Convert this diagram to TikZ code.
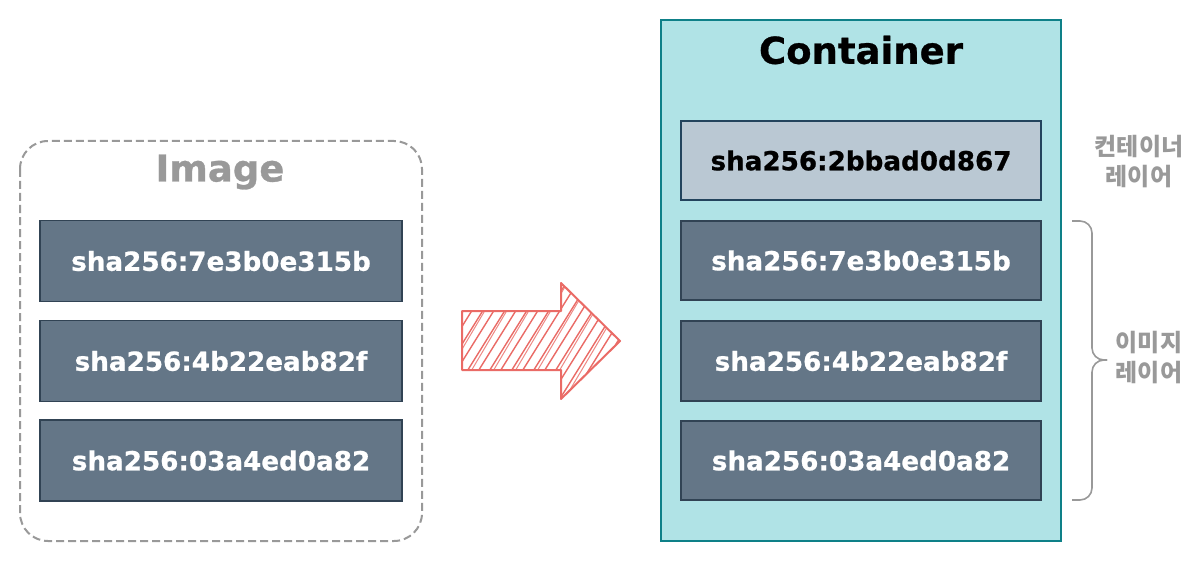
\documentclass[tikz,border=0pt]{standalone}
\usepackage{fontspec}
\setmainfont{DejaVu Sans}[BoldFeatures={FakeBold=0.8}]
\newfontfamily\kr{Noto Sans CJK KR}
\definecolor{layer}{HTML}{647687}
\definecolor{layerdraw}{HTML}{314354}
\definecolor{ctop}{HTML}{BAC8D3}
\definecolor{ctopdraw}{HTML}{23445D}
\definecolor{cfill}{HTML}{B0E3E6}
\definecolor{cdraw}{HTML}{0E8088}
\definecolor{arrowred}{HTML}{EA6B66}
\definecolor{gr}{HTML}{999999}
\tikzset{
  layerbox/.style={rectangle, fill=layer, draw=layerdraw, line width=1.8pt,
    minimum width=362pt, minimum height=81pt, inner sep=0pt, text=white,
    font=\bfseries\fontsize{26.2}{30}\selectfont},
  topbox/.style={layerbox, fill=ctop, draw=ctopdraw, text=black},
  title/.style={font=\bfseries\fontsize{37}{42}\selectfont, inner sep=0pt},
  krlabel/.style={font=\kr\bfseries\fontsize{24}{30}\selectfont, text=gr, align=center, inner sep=0pt},
}
\begin{document}
\begin{tikzpicture}[x=1pt,y=-1pt]
\useasboundingbox[fill=white] (0,0) rectangle (1204,564);
% Image frame
\draw[gr, dash pattern=on 8pt off 4pt, line width=2pt, rounded corners=28pt]
  (20,141) rectangle (422,541);
\node[title, text=gr] (imgtitle) at (220,172) {Image};
\node[layerbox] (i1) at (221,261) {sha256:7e3b0e315b};
\node[layerbox] (i2) at (221,361) {sha256:4b22eab82f};
\node[layerbox] (i3) at (221,460.5) {sha256:03a4ed0a82};
% Arrow
\def\arrowpath{(462,311) -- (561,311) -- (561,283) -- (620,341) -- (561,399) -- (561,370) -- (462,370) -- cycle}
\begin{scope}
  \clip \arrowpath;
  \foreach \x in {380,391,...,650}
    \draw[arrowred, line width=1.4pt] (\x,405) -- ++(78,-125);
  \foreach \x in {385,407,...,650}
    \draw[arrowred!80, line width=1pt] (\x,405) -- ++(74,-125);
\end{scope}
\draw[arrowred, line width=2pt, line join=round] \arrowpath;
% Container
\node[rectangle, fill=cfill, draw=cdraw, line width=2pt, minimum width=400pt, minimum height=521pt, inner sep=0pt]
  (cont) at (861,280.5) {};
\node[title, text=black] (conttitle) at (861,50) {Container};
\node[topbox, minimum width=360pt, minimum height=79pt] (c0) at (861,160.5) {sha256:2bbad0d867};
\node[layerbox, minimum width=360pt, minimum height=79pt] (c1) at (861,260.5) {sha256:7e3b0e315b};
\node[layerbox, minimum width=360pt, minimum height=80pt] (c2) at (861,361) {sha256:4b22eab82f};
\node[layerbox, minimum width=360pt, minimum height=79pt] (c3) at (861,460.5) {sha256:03a4ed0a82};
% Labels
\node[krlabel] (clabel) at (1139,162) {컨테이너\\레이어};
\node[krlabel] (ilabel) at (1149,358) {이미지\\레이어};
% Brace
\coordinate (btop) at (1072,221);
\coordinate (bbot) at (1072,500);
\coordinate (btip) at (1107,360);
\draw[gr, line width=1.6pt, rounded corners=12pt]
  (btop) -- (1092,221) -- (1092,360) -- (btip);
\draw[gr, line width=1.6pt, rounded corners=12pt]
  (btip) -- (1092,360) -- (1092,500) -- (bbot);
\end{tikzpicture}
\end{document}
